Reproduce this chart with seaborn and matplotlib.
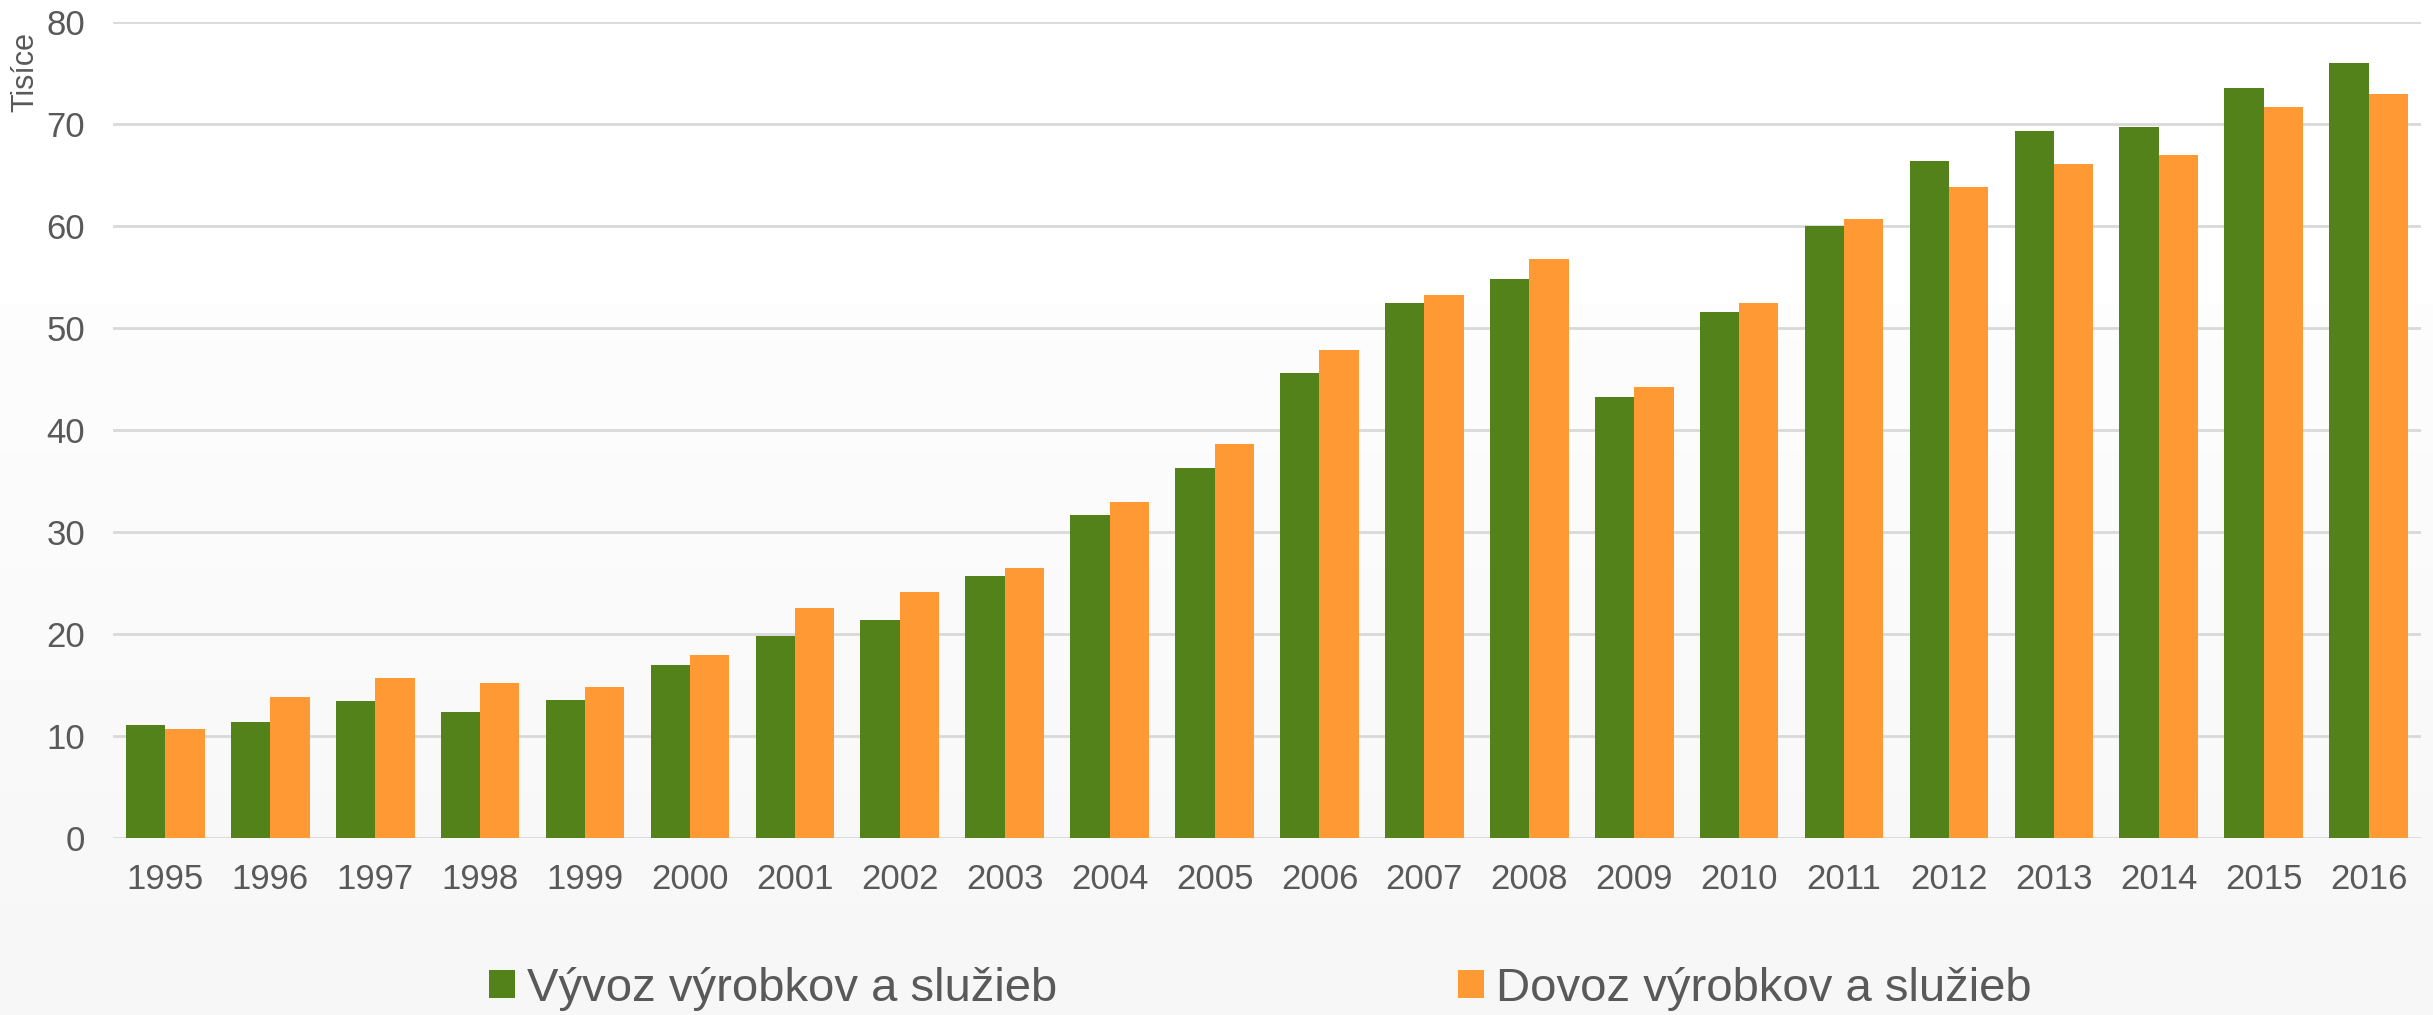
import numpy as np
import pandas as pd
import matplotlib
matplotlib.use("Agg")
import matplotlib.pyplot as plt
import seaborn as sns
from matplotlib.patches import Patch

# Data (thousands)
years = [str(y) for y in range(1995, 2017)]
vyvoz = [11.1, 11.4, 13.4, 12.4, 13.5, 17.0, 19.8, 21.4, 25.7, 31.7, 36.3,
         45.6, 52.5, 54.8, 43.2, 51.6, 60.0, 66.4, 69.3, 69.7, 73.5, 76.0]
dovoz = [10.7, 13.8, 15.7, 15.2, 14.8, 17.9, 22.5, 24.1, 26.5, 32.9, 38.6,
         47.8, 53.2, 56.8, 44.2, 52.5, 60.7, 63.8, 66.1, 67.0, 71.7, 72.9]
series_names = ["Vývoz výrobkov a služieb", "Dovoz výrobkov a služieb"]
colors = ["#53811A", "#FF9933"]

df = pd.DataFrame({
    "Rok": years * 2,
    "Hodnota": vyvoz + dovoz,
    "Seria": [series_names[0]] * len(years) + [series_names[1]] * len(years),
})

sns.set_style("white")
plt.rcParams["font.family"] = ["Liberation Sans", "DejaVu Sans"]
text_color = "#595959"

fig = plt.figure(figsize=(24.33, 10.15), dpi=100)

# soft background gradient
bg = fig.add_axes([0, 0, 1, 1], zorder=-10)
grad = np.linspace(1.0, 0.965, 200).reshape(-1, 1)
grad[:60] = 1.0
bg.imshow(grad, aspect="auto", cmap="gray", vmin=0, vmax=1,
          extent=[0, 1, 0, 1])
bg.axis("off")

ax = fig.add_axes([0.0464, 0.1744, 0.9487, 0.8039])
ax.set_facecolor("none")

sns.barplot(data=df, x="Rok", y="Hodnota", hue="Seria",
            palette=colors, saturation=1, width=0.75, gap=0, linewidth=0,
            legend=False, ax=ax)

ax.set_ylim(0, 80)
ax.set_xlim(-0.5, len(years) - 0.5)
ax.set_yticks(range(0, 81, 10))
ax.yaxis.grid(True, color="#d9d9d9", linewidth=2)
ax.set_axisbelow(True)
for s in ax.spines.values():
    s.set_visible(False)
ax.set_xlabel("")
ax.set_ylabel("")
ax.tick_params(axis="x", length=0, pad=18, labelsize=25, labelcolor=text_color)
ax.tick_params(axis="y", length=0, pad=20, labelsize=25, labelcolor=text_color)

fig.text(25 / 2433, 1 - 72 / 1015, "Tisíce", rotation=90, fontsize=22,
         color=text_color, ha="center", va="center")

handles = [Patch(facecolor=c, edgecolor="none") for c in colors]
leg = fig.legend(handles, series_names, loc="center", ncol=2,
                 bbox_to_anchor=(0.518, 0.026), frameon=False,
                 fontsize=34, handlelength=0.55, handleheight=0.55,
                 handletextpad=0.25, columnspacing=8.5)
for t in leg.get_texts():
    t.set_color(text_color)

plt.savefig("out.png", dpi=100)
